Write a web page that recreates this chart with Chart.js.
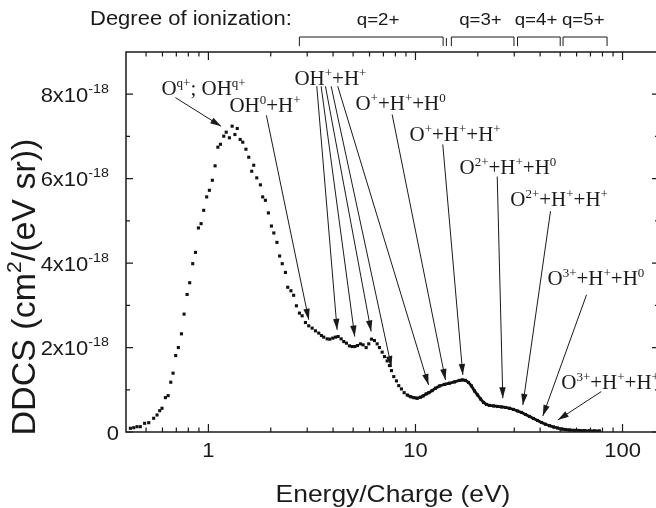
<!DOCTYPE html>
<html>

<head>
    <title>DDCS</title>
    <script src="https://cdn.jsdelivr.net/npm/chart.js@4.4.0/dist/chart.umd.min.js"></script>
    <style>
        html, body { margin: 0; padding: 0; overflow: hidden; background: #fff; }
        canvas { display: block; }
    </style>
</head>

<body>
    <canvas id="ddcsChart" width="664" height="508"></canvas>
    <script>
        // energy/charge in eV
        const energy = [
            0.420, 0.436, 0.452, 0.469, 0.492, 0.515, 0.544, 0.565, 0.582, 0.597,
            0.620, 0.639, 0.658, 0.675, 0.695, 0.716, 0.741, 0.763, 0.789, 0.812,
            0.840, 0.866, 0.895, 0.922, 0.949, 0.981, 1.011, 1.045, 1.077, 1.111,
            1.143, 1.186, 1.219, 1.263, 1.302, 1.343, 1.378, 1.424, 1.465, 1.518,
            1.566, 1.619, 1.655, 1.712, 1.783, 1.829, 1.885, 1.949, 2.015, 2.070,
            2.143, 2.208, 2.273, 2.355, 2.416, 2.504, 2.580, 2.661, 2.752, 2.836,
            2.942, 3.052, 3.170, 3.288, 3.411, 3.515, 3.606, 3.745, 3.855, 3.986,
            4.107, 4.233, 4.375, 4.504, 4.642, 4.799, 4.945, 5.091, 5.246, 5.424,
            5.588, 5.778, 5.948, 6.129, 6.337, 6.531, 6.700, 6.904, 7.083, 7.299,
            7.488, 7.657, 7.855, 8.094, 8.304, 8.557, 8.818, 9.118, 9.458, 9.813,
            10.19, 10.57, 10.89, 11.27, 11.60, 12.04, 12.49, 13.06, 13.81, 14.60,
            15.43, 16.32, 16.87, 17.44, 18.03, 18.64, 19.28, 19.93, 20.61, 21.31,
            22.03, 22.78, 23.82, 24.90, 26.04, 27.22, 28.46, 29.75, 31.11, 32.52,
            34.00, 35.54, 37.16, 38.86, 40.62, 42.46, 44.39, 46.42, 48.53, 50.74,
            53.03, 55.46, 58.63, 61.97, 65.53, 69.28, 73.23, 77.43
        ];
        // DDCS in units of 1e-18 cm^2/(eV sr)
        const ddcs = [
            0.088, 0.102, 0.126, 0.126, 0.206, 0.221, 0.325, 0.403, 0.505, 0.562,
            0.814, 0.861, 1.179, 1.393, 1.810, 2.000, 2.325, 2.792, 3.257, 3.535,
            3.986, 4.254, 4.833, 4.935, 5.250, 5.568, 5.725, 5.962, 6.304, 6.745,
            6.814, 7.006, 7.101, 6.968, 7.243, 7.046, 7.189, 6.928, 6.864, 6.698,
            6.508, 6.176, 6.318, 6.019, 5.853, 5.568, 5.488, 5.189, 4.878, 4.714,
            4.491, 4.168, 3.986, 3.779, 3.428, 3.345, 3.238, 2.989, 2.816, 2.752,
            2.593, 2.515, 2.460, 2.396, 2.342, 2.285, 2.247, 2.206, 2.199, 2.223,
            2.247, 2.261, 2.206, 2.142, 2.104, 2.040, 2.024, 2.024, 2.047, 2.088,
            2.064, 2.000, 2.088, 2.199, 2.166, 2.088, 2.000, 1.891, 1.786, 1.684,
            1.573, 1.454, 1.312, 1.210, 1.098, 1.020, 0.932, 0.878, 0.837, 0.814,
            0.800, 0.823, 0.854, 0.902, 0.932, 0.980, 1.037, 1.091, 1.127, 1.155,
            1.186, 1.222, 1.234, 1.222, 1.174, 1.091, 0.973, 0.878, 0.783, 0.700,
            0.652, 0.629, 0.617, 0.605, 0.593, 0.581, 0.562, 0.534, 0.498, 0.463,
            0.415, 0.368, 0.320, 0.273, 0.225, 0.183, 0.149, 0.119, 0.095, 0.071,
            0.059, 0.047, 0.040, 0.036, 0.031, 0.028, 0.026, 0.024
        ];
        // above this energy the points sit so close they merge into a line
        const denseFrom = 9;

        const xMajor = [1, 10, 100];
        const xMajorLabels = ['1', '10', '100'];
        const xMinor = [0.5, 0.6, 0.7, 0.8, 0.9, 2, 3, 4, 5, 6, 7, 8, 9, 20, 30, 40, 50, 60, 70, 80, 90];
        const yMajor = [0, 2, 4, 6, 8];
        const yMinor = [1, 3, 5, 7];

        // degree of ionization brackets (eV)
        const ionRanges = [[2.75, 13.6], [14.9, 29.9], [31.1, 50], [51.6, 84.2]];
        const ionLabels = ['q=2+', 'q=3+', 'q=4+', 'q=5+'];
        const ionLabelAt = [6.6, 20.6, 38.2, 64.6];
        const ionExtraLegs = [14.1];

        // fragmentation channels: label anchor and arrows [E1, y1, E2, y2]
        const notes = [
            { text: 'O^{q+}; OH^{q+}', at: [0.593, 7.97], arrows: [[0.693, 7.92, 1.152, 7.24]] },
            { text: 'OH^{0}+H^{+}', at: [1.263, 7.59], arrows: [[1.906, 7.50, 3.052, 2.66]] },
            {
                text: 'OH^{+}+H^{+}', at: [2.603, 8.23], arrows: [
                    [3.337, 8.19, 4.184, 2.42], [3.503, 8.19, 5.091, 2.26], [3.675, 8.19, 6.109, 2.38],
                    [3.915, 8.19, 7.657, 1.54], [4.213, 8.19, 11.56, 1.115]]
            },
            { text: 'O^{+}+H^{+}+H^{0}', at: [5.13, 7.62], arrows: [[7.716, 7.52, 13.96, 1.234]] },
            { text: 'O^{+}+H^{+}+H^{+}', at: [9.355, 6.90], arrows: [[13.55, 6.81, 16.93, 1.352]] },
            { text: 'O^{2+}+H^{+}+H^{0}', at: [16.32, 6.10], arrows: [[24.82, 6.05, 26.41, 0.80]] },
            { text: 'O^{2+}+H^{+}+H^{+}', at: [28.68, 5.36], arrows: [[44.89, 5.23, 33.0, 0.641]] },
            { text: 'O^{3+}+H^{+}+H^{0}', at: [43.42, 3.49], arrows: [[67.0, 3.25, 41.21, 0.38]] },
            { text: 'O^{3+}+H^{+}+H^{+}', at: [50.57, 1.02], arrows: [[78.9, 0.956, 48.69, 0.285]] }
        ];

        const INK = '#1a1a1a';
        const SANS = '"Liberation Sans", Arial, sans-serif';
        const SERIF = '"Liberation Serif", "Times New Roman", serif';

        function richParts(s) {
            const parts = [];
            const re = /\^\{([^}]*)\}/g;
            let last = 0, m;
            while ((m = re.exec(s))) {
                if (m.index > last) parts.push([s.slice(last, m.index), false]);
                parts.push([m[1], true]);
                last = re.lastIndex;
            }
            if (last < s.length) parts.push([s.slice(last), false]);
            return parts;
        }

        // text with ^{superscript} parts; opt: fam, size, sup, rise, sx, align, rot
        function drawRich(ctx, s, x, y, opt) {
            const parts = richParts(s);
            ctx.save();
            ctx.translate(x, y);
            if (opt.rot) ctx.rotate(opt.rot);
            ctx.scale(opt.sx || 1, 1);
            ctx.textBaseline = 'alphabetic';
            ctx.textAlign = 'left';
            ctx.fillStyle = INK;
            let w = 0;
            parts.forEach(p => {
                ctx.font = (p[1] ? opt.sup : opt.size) + 'px ' + opt.fam;
                w += ctx.measureText(p[0]).width;
            });
            let cx = opt.align === 'right' ? -w : (opt.align === 'center' ? -w / 2 : 0);
            parts.forEach(p => {
                ctx.font = (p[1] ? opt.sup : opt.size) + 'px ' + opt.fam;
                ctx.fillText(p[0], cx, p[1] ? -opt.rise : 0);
                cx += ctx.measureText(p[0]).width;
            });
            ctx.restore();
        }

        function arrow(ctx, x1, y1, x2, y2) {
            ctx.beginPath();
            ctx.moveTo(x1, y1);
            ctx.lineTo(x2, y2);
            ctx.stroke();
            const a = Math.atan2(y2 - y1, x2 - x1);
            const L = 11, W = 3.2;
            const bx = x2 - L * Math.cos(a), by = y2 - L * Math.sin(a);
            ctx.beginPath();
            ctx.moveTo(x2, y2);
            ctx.lineTo(bx + W * Math.sin(a), by - W * Math.cos(a));
            ctx.lineTo(bx - W * Math.sin(a), by + W * Math.cos(a));
            ctx.closePath();
            ctx.fill();
        }

        const decor = {
            id: 'decor',
            afterDatasetsDraw(chart) {
                const ctx = chart.ctx;
                const xs = chart.scales.x, ys = chart.scales.y;
                const a = chart.chartArea;
                ctx.save();
                ctx.strokeStyle = INK;
                ctx.fillStyle = INK;

                // frame
                ctx.lineWidth = 1.5;
                ctx.strokeRect(a.left, a.top, a.right - a.left, a.bottom - a.top);

                // ticks, pointing inward on all four sides
                ctx.lineWidth = 1.2;
                ctx.beginPath();
                const xt = (v, len) => {
                    const px = xs.getPixelForValue(v);
                    ctx.moveTo(px, a.bottom); ctx.lineTo(px, a.bottom - len);
                    ctx.moveTo(px, a.top); ctx.lineTo(px, a.top + len);
                };
                const yt = (v, len) => {
                    const py = ys.getPixelForValue(v);
                    ctx.moveTo(a.left, py); ctx.lineTo(a.left + len, py);
                    ctx.moveTo(a.right, py); ctx.lineTo(a.right - len, py);
                };
                xMajor.forEach(v => xt(v, 8));
                xMinor.forEach(v => xt(v, 4.5));
                yMajor.forEach(v => yt(v, 7));
                yMinor.forEach(v => yt(v, 4));
                ctx.stroke();

                // tick labels
                xMajor.forEach((v, i) => {
                    drawRich(ctx, xMajorLabels[i], xs.getPixelForValue(v), 457,
                        { fam: SANS, size: 20, sx: 1.1, align: 'center' });
                });
                yMajor.forEach(v => {
                    const py = ys.getPixelForValue(v);
                    if (v === 0) {
                        drawRich(ctx, '0', 119, py + 7.5, { fam: SANS, size: 20, sx: 1.1, align: 'right' });
                    } else {
                        drawRich(ctx, v + 'x10^{-18}', 109, py + 7.5,
                            { fam: SANS, size: 20, sup: 13, rise: 9, sx: 1.1, align: 'right' });
                    }
                });

                // axis titles
                drawRich(ctx, 'Energy/Charge (eV)', 393, 502, { fam: SANS, size: 24, sx: 1.1, align: 'center' });
                drawRich(ctx, 'DDCS (cm^{2}/(eV sr))', 35, 287,
                    { fam: SANS, size: 34, sup: 21, rise: 14, align: 'center', rot: -Math.PI / 2 });

                // degree of ionization
                drawRich(ctx, 'Degree of ionization:', 90, 25, { fam: SANS, size: 20, sx: 1.1 });
                ctx.lineWidth = 1;
                ctx.beginPath();
                ionRanges.forEach(r => {
                    const x1 = xs.getPixelForValue(r[0]), x2 = xs.getPixelForValue(r[1]);
                    ctx.moveTo(x1, 46); ctx.lineTo(x1, 37); ctx.lineTo(x2, 37); ctx.lineTo(x2, 46);
                });
                ionExtraLegs.forEach(v => {
                    const px = xs.getPixelForValue(v);
                    ctx.moveTo(px, 38); ctx.lineTo(px, 46);
                });
                ctx.stroke();
                ionLabels.forEach((t, i) => {
                    drawRich(ctx, t, xs.getPixelForValue(ionLabelAt[i]), 25,
                        { fam: SANS, size: 17, sx: 1.1, align: 'center' });
                });

                // channel labels and arrows
                ctx.lineWidth = 1;
                notes.forEach(n => {
                    drawRich(ctx, n.text, xs.getPixelForValue(n.at[0]), ys.getPixelForValue(n.at[1]),
                        { fam: SERIF, size: 21, sup: 13, rise: 8 });
                    n.arrows.forEach(r => {
                        arrow(ctx, xs.getPixelForValue(r[0]), ys.getPixelForValue(r[1]),
                            xs.getPixelForValue(r[2]), ys.getPixelForValue(r[3]));
                    });
                });
                ctx.restore();
            }
        };

        const points = energy.map((e, i) => ({ x: e, y: ddcs[i] }));
        const densePoints = points.filter(p => p.x >= denseFrom);

        const ctx = document.getElementById('ddcsChart').getContext('2d');
        const ddcsChart = new Chart(ctx, {
            type: 'scatter',
            data: {
                datasets: [{
                    label: 'DDCS',
                    data: points,
                    pointStyle: 'rect',
                    pointRadius: 2.2,
                    borderWidth: 0,
                    backgroundColor: '#111'
                }, {
                    label: 'DDCS dense',
                    data: densePoints,
                    showLine: true,
                    borderColor: '#111',
                    borderWidth: 2.8,
                    pointRadius: 0
                }]
            },
            options: {
                responsive: false,
                animation: false,
                layout: { padding: { left: 126, top: 52, right: 5, bottom: 76 } },
                plugins: { legend: { display: false }, tooltip: { enabled: false } },
                scales: {
                    x: { type: 'logarithmic', min: 0.4, max: 150, display: false },
                    y: { type: 'linear', min: 0, max: 9, display: false }
                }
            },
            plugins: [decor]
        });
    </script>
</body>

</html>
